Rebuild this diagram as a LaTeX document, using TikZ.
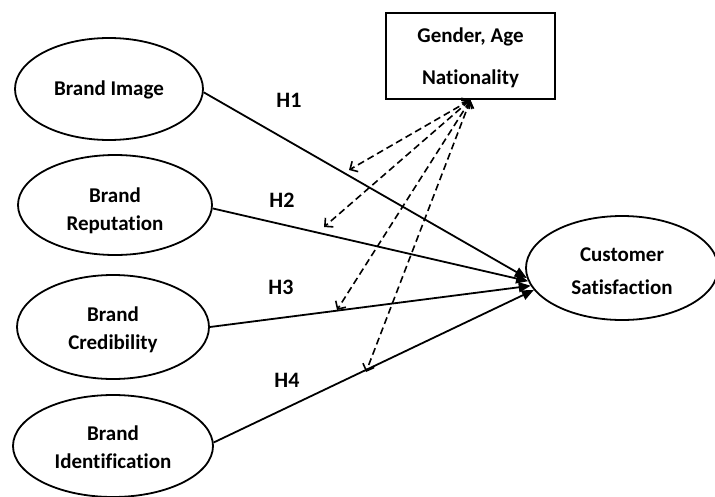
\documentclass[tikz,border=0pt]{standalone}
\usepackage{fontspec}
\setmainfont[Ligatures=NoCommon]{Carlito}
\usetikzlibrary{shapes.geometric,arrows.meta,calc}
\newcommand{\lowr}[1]{\rule{0pt}{#1}}
\begin{document}
\begin{tikzpicture}[x=1pt,y=-1pt,
  construct/.style={draw,ellipse,line width=1.8pt,inner sep=0pt,align=center,
    font=\bfseries\fontsize{21}{28}\selectfont},
  modbox/.style={draw,rectangle,line width=1.8pt,inner sep=0pt,align=center,
    font=\bfseries\fontsize{21}{42}\selectfont},
  hyp/.style={line width=1.8pt,-{Triangle[length=12pt,width=10pt]}},
  modarrow/.style={line width=1.6pt,dash pattern=on 7pt off 4pt,
    {Straight Barb[length=6pt,width=12pt]}-{Straight Barb[length=6pt,width=12pt]}},
  hlabel/.style={font=\bfseries\fontsize{22}{24}\selectfont}]
\useasboundingbox (0,0) rectangle (715,496);
\fill[white] (0,0) rectangle (715,496);

\node[construct,minimum width=188pt,minimum height=102pt] (bi) at (109,89) {\lowr{17pt}Brand Image};
\node[construct,minimum width=194pt,minimum height=100pt] (br) at (115,205) {\lowr{27pt}Brand\\Reputation};
\node[construct,minimum width=192pt,minimum height=104pt] (bc) at (113,327) {\lowr{21pt}Brand\\Credibility};
\node[construct,minimum width=200pt,minimum height=102pt] (bid) at (113,446) {\lowr{18pt}Brand\\Identification};
\node[construct,minimum width=192pt,minimum height=104pt,
  font=\bfseries\fontsize{21}{33}\selectfont] (cs) at (622,268) {\lowr{21pt}Customer\\Satisfaction};
\node[modbox,minimum width=169pt,minimum height=86pt] (mod) at (470.5,56) {\lowr{19pt}Gender, Age\\Nationality};

\draw[hyp] (bi.-2) -- (cs.186);
\draw[hyp] (br.-2) -- (cs.188);
\draw[hyp] (bc.0) -- (cs.191);
\draw[hyp] (bid.2) -- (cs.194);

\node[hlabel] (h1) at (289,100) {H1};
\node[hlabel] (h2) at (282,200) {H2};
\node[hlabel] (h3) at (281,287) {H3};
\node[hlabel] (h4) at (287,380) {H4};

\coordinate (d1) at (349,170);
\coordinate (d2) at (324,227);
\coordinate (d3) at (337,310);
\coordinate (d4) at (366,372);
\draw[modarrow] (mod.south) -- (d1);
\draw[modarrow] (mod.south) -- (d2);
\draw[modarrow] (mod.south) -- (d3);
\draw[modarrow] (mod.south) -- (d4);
\end{tikzpicture}
\end{document}
